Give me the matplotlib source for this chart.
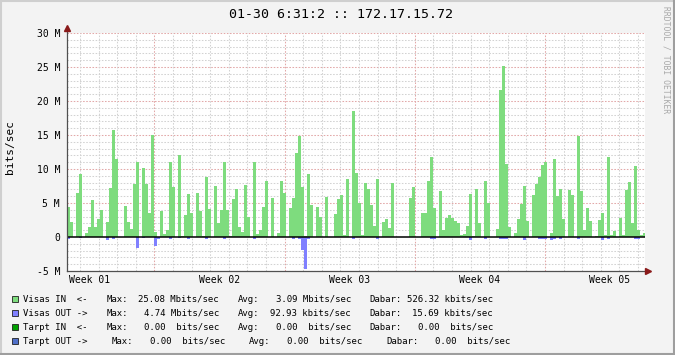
# RRD style traffic graph, 172.17.15.72
import matplotlib
matplotlib.use('Agg')
import matplotlib.pyplot as plt
import numpy as np
from matplotlib.patches import Rectangle
from matplotlib.lines import Line2D

# traffic in Mbit/s, one value per ~3.9 h step
visas_in = [
    4.4, 2.2, 0, 6.5, 9.2, 0, 0.6, 1.5, 5.4, 1.4,
    2.7, 4.0, 0, 2.2, 7.2, 15.8, 11.4, 0, 0, 4.6,
    2.2, 1.2, 7.8, 11.1, 0, 10.2, 7.8, 3.5, 15.0, 0.8,
    0, 3.8, 0.4, 1.0, 11.1, 7.4, 0, 12.0, 0.2, 3.2,
    6.3, 3.5, 0, 6.5, 3.8, 0.2, 8.8, 4.1, 0, 7.5,
    2.1, 4.0, 11.0, 4.0, 0.2, 5.6, 7.0, 1.4, 0.8, 7.6,
    3.0, 0, 11.1, 0.5, 1.1, 4.4, 8.2, 0, 5.7, 0,
    0.6, 8.2, 6.5, 0, 4.3, 5.7, 12.3, 14.8, 7.3, 0.2,
    9.2, 4.7, 0, 4.4, 3.0, 0, 5.9, 0, 0, 3.4,
    5.6, 6.2, 0.3, 8.5, 0, 18.5, 9.4, 5.0, 0.3, 7.9,
    7.1, 4.7, 1.6, 8.6, 0, 2.2, 2.6, 1.3, 8.0, 0,
    0, 0, 0, 0, 5.7, 7.3, 0, 0, 3.5, 3.5,
    8.2, 11.8, 4.2, 0, 6.7, 1.0, 2.8, 3.2, 2.8, 2.3,
    2.0, 0.3, 0.4, 1.6, 6.3, 0.15, 7.0, 2.0, 0, 8.2,
    5.0, 0, 0, 1.2, 21.6, 25.08, 10.8, 1.5, 0, 0.6,
    2.7, 4.9, 7.5, 2.4, 0, 6.2, 7.8, 8.8, 10.6, 11.1,
    0, 0.6, 11.4, 6.0, 7.0, 2.7, 0, 6.9, 6.2, 0,
    14.9, 6.7, 1.0, 4.3, 2.4, 0, 0.2, 2.5, 3.5, 0.3,
    11.7, 0.3, 0.9, 0, 2.8, 0.3, 6.9, 8.1, 2.1, 10.5,
    1.1, 0.3, 0.6,
]
visas_out = [
    0.25, 0, 0, 0, 0.2, 0, 0, 0, 0, 0,
    0, 0, 0, 0.5, 0, 0.25, 0, 0, 0, 0,
    0, 0, 0, 1.55, 0, 0.2, 0, 0, 0, 1.3,
    0.25, 0, 0, 0, 0.25, 0, 0, 0.2, 0, 0,
    0.25, 0, 0, 0, 0, 0, 0.25, 0, 0, 0,
    0, 0, 0.25, 0, 0, 0, 0, 0, 0, 0,
    0, 0, 0.25, 0, 0, 0, 0, 0, 0, 0,
    0, 0, 0, 0, 0, 0.25, 0, 0.25, 1.85, 4.74,
    0.25, 0, 0, 0, 0, 0, 0, 0, 0, 0,
    0, 0, 0, 0, 0, 0.25, 0, 0, 0, 0,
    0, 0, 0, 0.3, 0, 0, 0, 0, 0, 0,
    0, 0, 0, 0, 0, 0, 0, 0, 0, 0,
    0, 0.3, 0.3, 0, 0, 0, 0, 0, 0, 0,
    0, 0, 0, 0, 0.45, 0, 0, 0, 0, 0.3,
    0, 0, 0, 0, 0.3, 0.3, 0.25, 0, 0, 0,
    0, 0, 0.4, 0, 0, 0, 0, 0.25, 0.25, 0.25,
    0, 0.5, 0.25, 0, 0.25, 0, 0, 0, 0, 0,
    0.25, 0, 0, 0, 0, 0, 0, 0, 0.5, 0,
    0.25, 0, 0, 0, 0, 0, 0, 0, 0, 0.25,
    0.25, 0, 0,
]
week_labels = ['Week 01', 'Week 02', 'Week 03', 'Week 04', 'Week 05']
ytick_vals = [-5, 0, 5, 10, 15, 20, 25, 30]
ytick_text = ['-5 M', '0', '5 M', '10 M', '15 M', '20 M', '25 M', '30 M']

leg_names = ['Visas IN  <-', 'Visas OUT ->', 'Tarpt IN  <-', 'Tarpt OUT ->']
leg_colors = ['#7EDC7E', '#8080FF', '#00A000', '#4F6FC8']
leg_max = ['25.08 Mbits/sec', '4.74 Mbits/sec', '0.00  bits/sec', '0.00  bits/sec']
leg_avg = ['3.09 Mbits/sec', '92.93 kbits/sec', '0.00  bits/sec', '0.00  bits/sec']
leg_dabar = ['526.32 kbits/sec', '15.69 kbits/sec', '0.00  bits/sec', '0.00  bits/sec']

step = 1 / 6.2          # days per sample
span = 31.075           # days shown
first_week = 4.694      # first week boundary, days from left edge

W, H = 675, 355
def fx(px):
    return px / W
def fy(py):
    return 1 - py / H

mono = 'DejaVu Sans Mono'
fig = plt.figure(figsize=(W / 100, H / 100), dpi=100, facecolor='#F3F3F3')
ax = fig.add_axes([fx(67), fy(271), 578 / W, 238 / H])
ax.set_facecolor('white')

# grid
for v in range(-5, 31):
    if v == 0:
        continue
    col = '#E2A8A8' if v % 5 == 0 else '#D2D2D2'
    ax.axhline(v, color=col, lw=0.75, ls=(0, (1.5, 1.5)), zorder=0)
d = first_week - 4
k = 0
while d < span:
    col = '#E2A8A8' if k % 7 == 4 else '#D2D2D2'
    ax.axvline(d, color=col, lw=0.75, ls=(0, (1.5, 1.5)), zorder=0)
    d += 1
    k += 1

t = np.arange(len(visas_in)) * step
ax.bar(t, visas_in, width=step, align='edge', color=leg_colors[0], linewidth=0, zorder=2)
ax.bar(t, -np.array(visas_out), width=step, align='edge', color=leg_colors[1], linewidth=0, zorder=2)
ax.axhline(0, color='black', lw=1.1, zorder=3)

ax.set_xlim(0, span)
ax.set_ylim(-5, 30)
for s in ax.spines.values():
    s.set_visible(False)

week_mid = [first_week - 3.5 + 7 * i for i in range(len(week_labels))]
ax.set_xticks(week_mid, week_labels)
ax.set_yticks(ytick_vals, ytick_text)
ax.tick_params(length=0, labelsize=7)
ax.tick_params(axis='y', pad=5)
ax.tick_params(axis='x', pad=3)
for lab in ax.get_xticklabels() + ax.get_yticklabels():
    lab.set_family(mono)

# axes with arrows
ax.plot([0, 0], [0, 1.015], color='#505050', lw=0.9, transform=ax.transAxes, clip_on=False, zorder=4)
ax.plot([0, 1.007], [0, 0], color='#505050', lw=0.9, transform=ax.transAxes, clip_on=False, zorder=4)
ax.plot([0], [1.02], marker='^', ms=4, color='#8A1A1A', transform=ax.transAxes, clip_on=False, zorder=5)
ax.plot([1.006], [0], marker='>', ms=4, color='#8A1A1A', transform=ax.transAxes, clip_on=False, zorder=5)

fig.text(fx(341), fy(14), '01-30 6:31:2 :: 172.17.15.72', family=mono, fontsize=9.5,
         ha='center', va='center')
fig.text(fx(10.5), fy(147), 'bits/sec', family=mono, fontsize=8, rotation=90,
         ha='center', va='center')
fig.text(fx(666), fy(60), 'RRDTOOL / TOBI OETIKER', family=mono, fontsize=5.8,
         rotation=270, ha='center', va='center', color='#A8A8A8')

# legend
rows_y = [299, 313, 327, 341]
cols = [(107, 219, 238, 351, 369, 493)] * 3 + [(112, 225, 249, 362, 386, 510)]
for i in range(4):
    y = rows_y[i]
    c = cols[i]
    fig.patches.append(Rectangle((fx(12), fy(y + 3)), 6 / W, 6 / H, transform=fig.transFigure,
                                 facecolor=leg_colors[i], edgecolor='#202020', lw=0.6))
    kw = dict(family=mono, fontsize=6.5, va='center')
    fig.text(fx(23), fy(y), leg_names[i], ha='left', **kw)
    fig.text(fx(c[0]), fy(y), 'Max:', ha='left', **kw)
    fig.text(fx(c[1]), fy(y), leg_max[i], ha='right', **kw)
    fig.text(fx(c[2]), fy(y), 'Avg:', ha='left', **kw)
    fig.text(fx(c[3]), fy(y), leg_avg[i], ha='right', **kw)
    fig.text(fx(c[4]), fy(y), 'Dabar:', ha='left', **kw)
    fig.text(fx(c[5]), fy(y), leg_dabar[i], ha='right', **kw)

# 3d frame
fig.add_artist(Line2D([0, 1], [fy(1), fy(1)], color='#CFCFCF', lw=1.5, transform=fig.transFigure))
fig.add_artist(Line2D([fx(1), fx(1)], [0, 1], color='#CFCFCF', lw=1.5, transform=fig.transFigure))
fig.add_artist(Line2D([0, 1], [fy(354), fy(354)], color='#9E9E9E', lw=1.5, transform=fig.transFigure))
fig.add_artist(Line2D([fx(674), fx(674)], [0, 1], color='#9E9E9E', lw=1.5, transform=fig.transFigure))

fig.savefig('out.png', dpi=100, facecolor=fig.get_facecolor())
